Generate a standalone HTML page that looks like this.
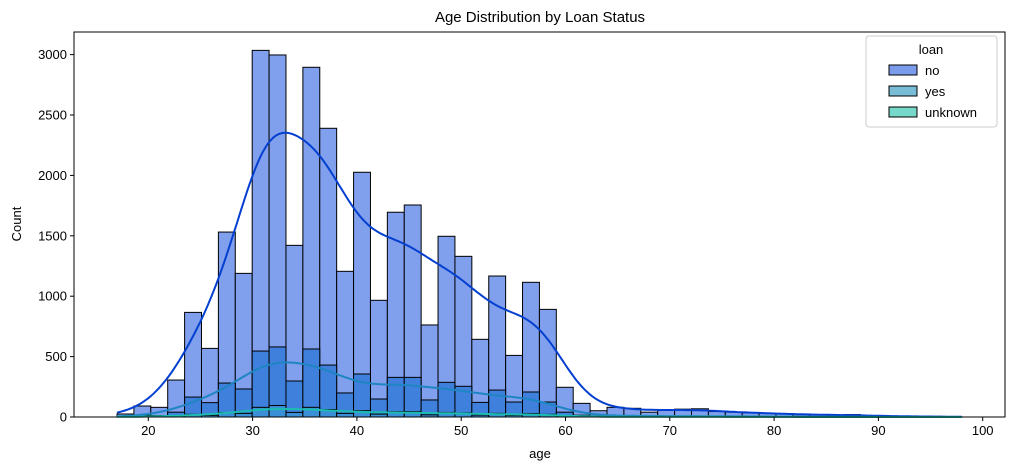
<!DOCTYPE html>
<html><head><meta charset="utf-8"><style>
body{margin:0;background:#fff;font-family:"Liberation Sans",sans-serif}
svg text{font-family:"Liberation Sans",sans-serif;fill:#000}
</style></head><body>
<svg id="c" width="1014" height="470" xmlns="http://www.w3.org/2000/svg"></svg>
<script>
const binStart = 17, binWidth = 1.62;
const noCounts = [25,91,80,306,866,568,1531,1189,3035,2997,1421,2895,2390,1206,2026,966,1695,1755,762,1496,1330,643,1167,510,1115,891,246,113,52,80,72,40,55,65,68,45,40,35,30,28,20,18,15,20,10,8,5,3,5,2];
const yesCounts = [5,15,12,40,165,119,281,232,546,580,298,563,430,199,356,149,328,328,141,287,254,121,223,124,207,124,40,15,10,12,10,6,8,8,8,6,5,4,4,3,3,2,2,2,1,1,1,0,1,0];
const unknownCounts = [1,3,2,8,22,14,36,30,80,95,38,80,62,30,52,24,44,44,18,38,34,16,30,14,28,22,6,3,2,2,2,1,1,2,2,1,1,1,1,1,0,0,0,0,0,0,0,0,0,0];
const xTicks = [20,30,40,50,60,70,80,90,100];
const yTicks = [0,500,1000,1500,2000,2500,3000];
const legendLabels = ["no","yes","unknown"];

const L=74,R=1005,T=32,B=417;
const X=v=>148.3+(v-20)*10.43;
const Y=v=>417-v*0.1208;
const svg=document.getElementById('c');
const NS='http://www.w3.org/2000/svg';
function mk(tag,attrs,parent){const e=document.createElementNS(NS,tag);for(const k in attrs)e.setAttribute(k,attrs[k]);(parent||svg).appendChild(e);return e;}

function bars(arr,fill,name){
  const g=mk('g',{});
  
  
  arr.forEach((v,i)=>{
    if(v<=0)return;
    const x0=X(binStart+i*binWidth),x1=X(binStart+(i+1)*binWidth);
    const r=mk('rect',{x:x0,y:Y(v),width:x1-x0,height:B-Y(v),fill:fill,stroke:'#000','stroke-width':1},g);
    
    
  });
}
bars(noCounts,'#809FEC','no-bars');
bars(yesCounts,'#3F80DD','yes-bars');
bars(unknownCounts,'#3A90D6','unknown-bars');

function kde(arr,color,name){
  const bw=2.5;let d='';
  const lo=binStart,hi=binStart+arr.length*binWidth;
  for(let a=lo;a<=hi+0.01;a+=0.25){
    let s=0;
    arr.forEach((v,i)=>{const c=binStart+(i+0.5)*binWidth;const z=(a-c)/bw;s+=v*Math.exp(-0.5*z*z)/(bw*Math.sqrt(2*Math.PI));});
    const val=s*binWidth;
    d+=(d?'L':'M')+X(a).toFixed(1)+','+Y(val).toFixed(1);
  }
  const p=mk('path',{d:d,fill:'none',stroke:color,'stroke-width':2});
  
  
}
kde(noCounts,'#0440D0','no-kde-line');
kde(yesCounts,'#1E85C2','yes-kde-line');
kde(unknownCounts,'#1CBBB0','unknown-kde-line');

const frame=mk('rect',{x:L,y:T,width:R-L,height:B-T,fill:'none',stroke:'#000','stroke-width':1});



xTicks.forEach(v=>{
  mk('line',{x1:X(v),x2:X(v),y1:B,y2:B+4,stroke:'#000'});
  const t=mk('text',{x:X(v),y:B+18,'text-anchor':'middle','font-size':13});
  t.textContent=v;
  
  
});
yTicks.forEach(v=>{
  mk('line',{x1:L-4,x2:L,y1:Y(v),y2:Y(v),stroke:'#000'});
  const t=mk('text',{x:L-7,y:Y(v)+4.5,'text-anchor':'end','font-size':13});
  t.textContent=v;
  
  
});
</script>
<svg style="position:absolute;left:0;top:0" width="1014" height="470" xmlns="http://www.w3.org/2000/svg">
<text x="540" y="22" text-anchor="middle" font-size="15">Age Distribution by Loan Status</text>
<text x="540" y="458" text-anchor="middle" font-size="13">age</text>
<text x="21" y="224" text-anchor="middle" font-size="13" transform="rotate(-90 21 224)">Count</text>
<g>
<rect x="866" y="36" width="131" height="91" rx="3" fill="#fff" fill-opacity="0.8" stroke="#ccc"/>
<text x="931" y="54" text-anchor="middle" font-size="13">loan</text>
<g><rect x="889" y="65" width="28" height="10" fill="#7B9CED" stroke="#000"/><text x="925" y="75" font-size="13">no</text></g>
<g><rect x="889" y="86" width="28" height="10" fill="#78BCD6" stroke="#000"/><text x="925" y="96" font-size="13">yes</text></g>
<g><rect x="889" y="107" width="28" height="10" fill="#76D8C9" stroke="#000"/><text x="925" y="117" font-size="13">unknown</text></g>
</g>
</svg>
</body></html>
